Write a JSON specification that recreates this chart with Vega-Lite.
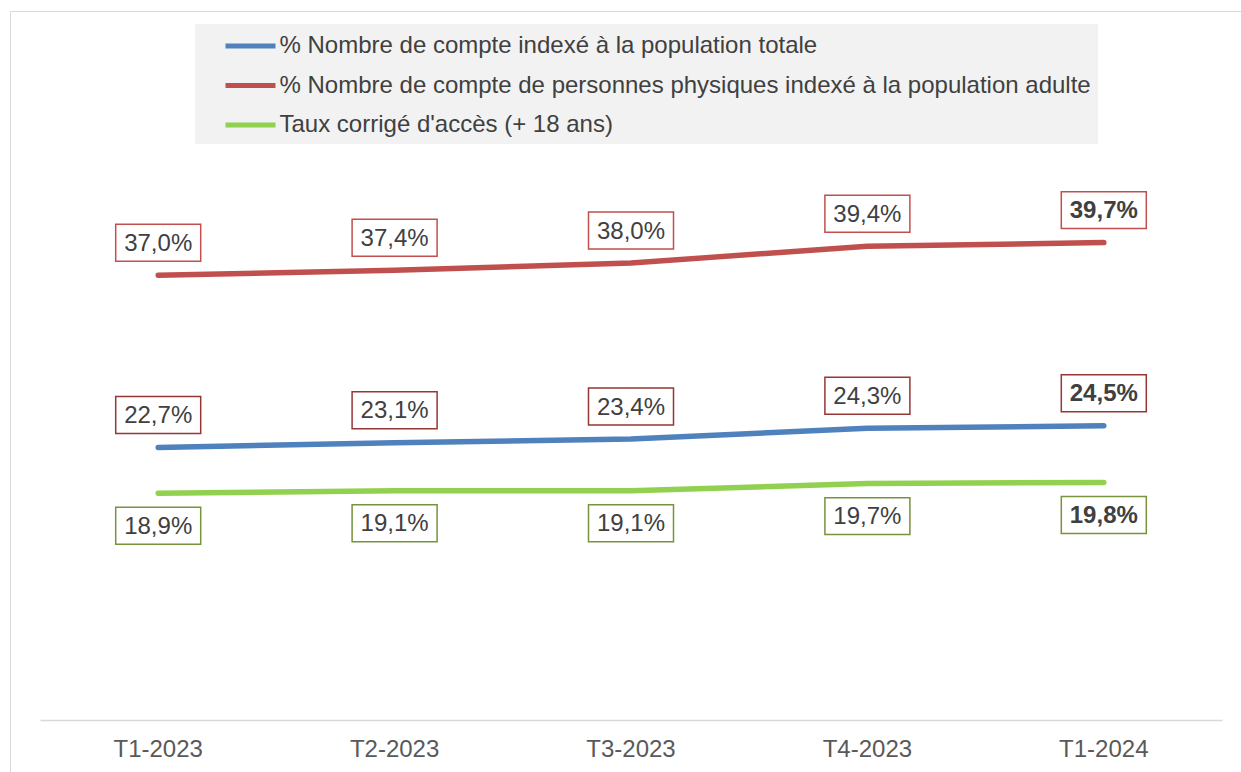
{
  "$schema": "https://vega.github.io/schema/vega-lite/v6.json",
  "width": 1231,
  "height": 761,
  "autosize": "none",
  "padding": {"left": 10, "top": 11, "right": 0, "bottom": 0},
  "background": "white",
  "data": {
    "values": [
      {"period": "T1-2023", "series": "% Nombre de compte indexé à la population totale", "value": 0.227},
      {"period": "T2-2023", "series": "% Nombre de compte indexé à la population totale", "value": 0.231},
      {"period": "T3-2023", "series": "% Nombre de compte indexé à la population totale", "value": 0.234},
      {"period": "T4-2023", "series": "% Nombre de compte indexé à la population totale", "value": 0.243},
      {"period": "T1-2024", "series": "% Nombre de compte indexé à la population totale", "value": 0.245},
      {"period": "T1-2023", "series": "% Nombre de compte de personnes physiques indexé à la population adulte", "value": 0.370},
      {"period": "T2-2023", "series": "% Nombre de compte de personnes physiques indexé à la population adulte", "value": 0.374},
      {"period": "T3-2023", "series": "% Nombre de compte de personnes physiques indexé à la population adulte", "value": 0.380},
      {"period": "T4-2023", "series": "% Nombre de compte de personnes physiques indexé à la population adulte", "value": 0.394},
      {"period": "T1-2024", "series": "% Nombre de compte de personnes physiques indexé à la population adulte", "value": 0.397},
      {"period": "T1-2023", "series": "Taux corrigé d'accès (+ 18 ans)", "value": 0.189},
      {"period": "T2-2023", "series": "Taux corrigé d'accès (+ 18 ans)", "value": 0.191},
      {"period": "T3-2023", "series": "Taux corrigé d'accès (+ 18 ans)", "value": 0.191},
      {"period": "T4-2023", "series": "Taux corrigé d'accès (+ 18 ans)", "value": 0.197},
      {"period": "T1-2024", "series": "Taux corrigé d'accès (+ 18 ans)", "value": 0.198}
    ]
  },
  "encoding": {
    "x": {
      "field": "period",
      "type": "nominal",
      "scale": {"type": "band", "domain": ["T1-2023", "T2-2023", "T3-2023", "T4-2023", "T1-2024"], "range": [30, 1212], "paddingInner": 0, "paddingOuter": 0},
      "axis": {
        "title": null,
        "orient": "bottom",
        "offset": -52,
        "ticks": false,
        "grid": false,
        "domainColor": "#D9D9D9",
        "domainWidth": 1.5,
        "labelFont": "Liberation Sans",
        "labelFontSize": 24,
        "labelColor": "#595959",
        "labelPadding": 17,
        "labelAngle": 0
      }
    },
    "y": {
      "field": "value",
      "type": "quantitative",
      "scale": {"domain": [0, 0.5], "range": [710, 107.5], "nice": false, "zero": false},
      "axis": null
    }
  },
  "layer": [
    {
      "mark": {"type": "line", "strokeWidth": 5.5, "strokeCap": "round", "strokeJoin": "round"},
      "encoding": {
        "color": {
          "field": "series",
          "type": "nominal",
          "scale": {
            "domain": ["% Nombre de compte indexé à la population totale", "% Nombre de compte de personnes physiques indexé à la population adulte", "Taux corrigé d'accès (+ 18 ans)"],
            "range": ["#4F81BD", "#C0504D", "#92D050"]
          },
          "legend": {
            "title": null,
            "orient": "none",
            "legendX": 185,
            "legendY": 13,
            "fillColor": "#F2F2F2",
            "padding": 7,
            "symbolType": "M-2,0H2",
            "symbolSize": 625,
            "symbolOffset": 33.5,
            "symbolStrokeWidth": 5,
            "labelFont": "Liberation Sans",
            "labelFontSize": 24,
            "labelColor": "#404040",
            "labelLimit": 1200,
            "labelOffset": 14,
            "rowPadding": 12.5
          }
        }
      }
    },
    {
      "transform": [{"filter": "datum.series !== \"Taux corrigé d'accès (+ 18 ans)\""}],
      "mark": {"type": "point", "shape": "M-1,-0.435H1V0.435H-1Z", "size": 7225, "filled": false, "fill": "white", "fillOpacity": 1, "opacity": 1, "strokeWidth": 1.5, "yOffset": -32.5},
      "encoding": {
        "stroke": {
          "field": "series",
          "type": "nominal",
          "scale": {
            "domain": ["% Nombre de compte indexé à la population totale", "% Nombre de compte de personnes physiques indexé à la population adulte", "Taux corrigé d'accès (+ 18 ans)"],
            "range": ["#953735", "#C0504D", "#77933C"]
          },
          "legend": null
        }
      }
    },
    {
      "transform": [{"filter": "datum.series === \"Taux corrigé d'accès (+ 18 ans)\""}],
      "mark": {"type": "point", "shape": "M-1,-0.435H1V0.435H-1Z", "size": 7225, "filled": false, "fill": "white", "fillOpacity": 1, "opacity": 1, "strokeWidth": 1.5, "yOffset": 32.5},
      "encoding": {
        "stroke": {"field": "series", "type": "nominal", "legend": null}
      }
    },
    {
      "transform": [{"filter": "datum.series !== \"Taux corrigé d'accès (+ 18 ans)\" && datum.period !== 'T1-2024'"}],
      "mark": {"type": "text", "font": "Liberation Sans", "fontSize": 24, "color": "#404040", "baseline": "middle", "align": "center", "yOffset": -31.5},
      "encoding": {"text": {"field": "value", "type": "quantitative", "format": ".1%"}}
    },
    {
      "transform": [{"filter": "datum.series !== \"Taux corrigé d'accès (+ 18 ans)\" && datum.period === 'T1-2024'"}],
      "mark": {"type": "text", "font": "Liberation Sans", "fontSize": 24, "fontWeight": "bold", "color": "#404040", "baseline": "middle", "align": "center", "yOffset": -31.5},
      "encoding": {"text": {"field": "value", "type": "quantitative", "format": ".1%"}}
    },
    {
      "transform": [{"filter": "datum.series === \"Taux corrigé d'accès (+ 18 ans)\" && datum.period !== 'T1-2024'"}],
      "mark": {"type": "text", "font": "Liberation Sans", "fontSize": 24, "color": "#404040", "baseline": "middle", "align": "center", "yOffset": 33.5},
      "encoding": {"text": {"field": "value", "type": "quantitative", "format": ".1%"}}
    },
    {
      "transform": [{"filter": "datum.series === \"Taux corrigé d'accès (+ 18 ans)\" && datum.period === 'T1-2024'"}],
      "mark": {"type": "text", "font": "Liberation Sans", "fontSize": 24, "fontWeight": "bold", "color": "#404040", "baseline": "middle", "align": "center", "yOffset": 33.5},
      "encoding": {"text": {"field": "value", "type": "quantitative", "format": ".1%"}}
    }
  ],
  "config": {
    "locale": {"number": {"decimal": ",", "thousands": " ", "grouping": [3], "currency": ["", " €"]}},
    "view": {"stroke": "#D9D9D9", "strokeWidth": 1},
    "font": "Liberation Sans"
  }
}
